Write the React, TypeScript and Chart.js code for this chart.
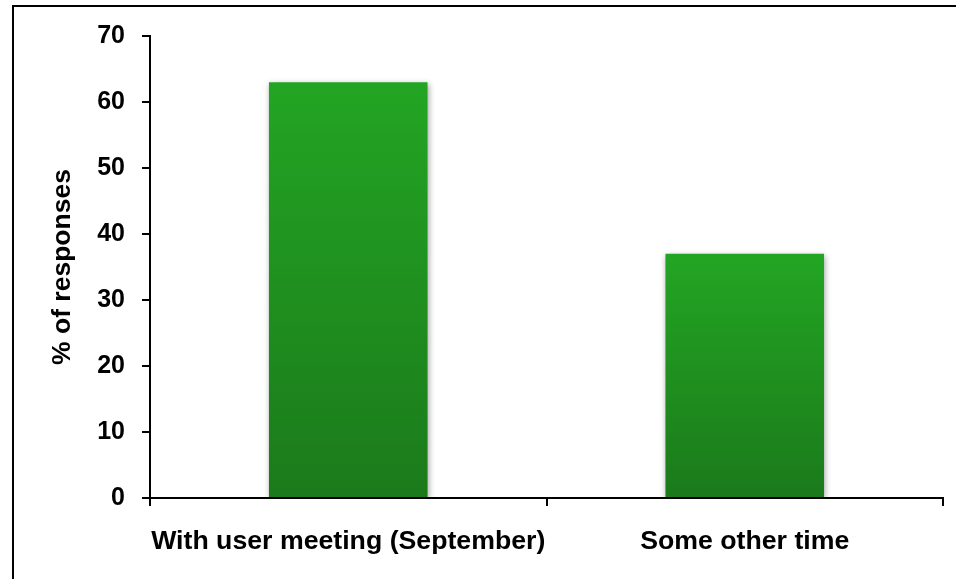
import React, { useEffect, useRef } from "react";
import { Chart, registerables } from "chart.js";

Chart.register(...registerables);

const categories: string[] = ["With user meeting (September)", "Some other time"];
const responses: number[] = [63, 37];
const yAxisTitle = "% of responses";
const yMin = 0;
const yMax = 70;
const yStep = 10;

const FONT = "'Liberation Sans', Arial, sans-serif";

export default function App() {
  const ref = useRef<HTMLCanvasElement>(null);

  useEffect(() => {
    const canvas = ref.current;
    if (!canvas) return;

    const framePlugin = {
      id: "frame",
      beforeDraw(chart: any) {
        const ctx = chart.ctx;
        ctx.save();
        ctx.fillStyle = "#ffffff";
        ctx.fillRect(0, 0, chart.width, chart.height);
        ctx.strokeStyle = "#000000";
        ctx.lineWidth = 2;
        ctx.beginPath();
        ctx.moveTo(13, chart.height);
        ctx.lineTo(13, 6);
        ctx.lineTo(chart.width, 6);
        ctx.stroke();
        ctx.restore();
      },
    };

    const shadowPlugin = {
      id: "barShadow",
      beforeDatasetsDraw(chart: any) {
        const ctx = chart.ctx;
        ctx.save();
        ctx.shadowColor = "rgba(0,0,0,0.35)";
        ctx.shadowBlur = 6;
        ctx.shadowOffsetX = 1;
        ctx.shadowOffsetY = 2;
      },
      afterDatasetsDraw(chart: any) {
        chart.ctx.restore();
      },
    };

    const chart = new Chart(canvas, {
      type: "bar",
      data: {
        labels: categories,
        datasets: [
          {
            data: responses,
            backgroundColor: (c: any) => {
              const ch = c.chart;
              const ys = ch.scales && ch.scales.y;
              if (!ch.chartArea || !ys || c.parsed === undefined) return "#1f8f1f";
              const top = ys.getPixelForValue(c.parsed.y);
              const bottom = ys.getPixelForValue(0);
              const g = ch.ctx.createLinearGradient(0, top, 0, bottom);
              g.addColorStop(0, "#23a523");
              g.addColorStop(1, "#1b7a1b");
              return g;
            },
            borderWidth: 0,
            barPercentage: 0.4,
            categoryPercentage: 1,
          },
        ],
      },
      options: {
        animation: false,
        responsive: false,
        maintainAspectRatio: false,
        layout: { padding: { left: 43, top: 36, right: 13, bottom: 0 } },
        plugins: {
          legend: { display: false },
          tooltip: { enabled: false },
        },
        scales: {
          x: {
            grid: {
              display: true,
              drawOnChartArea: false,
              drawTicks: true,
              tickLength: 8,
              color: "#000000",
              lineWidth: 2,
              offset: true,
            },
            border: { display: true, color: "#000000", width: 2 },
            ticks: {
              color: "#000000",
              font: { family: FONT, size: 26.7, weight: "bold" },
              padding: 20,
              maxRotation: 0,
              autoSkip: false,
            },
            afterFit: (s: any) => {
              s.height = 81;
            },
          },
          y: {
            min: yMin,
            max: yMax,
            grid: {
              display: true,
              drawOnChartArea: false,
              drawTicks: true,
              tickLength: 8,
              color: "#000000",
              lineWidth: 2,
            },
            border: { display: true, color: "#000000", width: 2 },
            ticks: {
              stepSize: yStep,
              color: "#000000",
              font: { family: FONT, size: 25, weight: "bold" },
              padding: 17,
            },
            title: {
              display: true,
              text: yAxisTitle,
              color: "#000000",
              font: { family: FONT, size: 26.5, weight: "bold" },
              padding: 4,
            },
            afterFit: (s: any) => {
              s.width = 150 - 43;
            },
          },
        },
      },
      plugins: [framePlugin, shadowPlugin],
    });

    return () => chart.destroy();
  }, []);

  return (
    <div style={{ position: "absolute", left: 0, top: 0, width: 956, height: 579 }}>
      <canvas ref={ref} width={956} height={579} style={{ width: 956, height: 579, display: "block" }} />
    </div>
  );
}
